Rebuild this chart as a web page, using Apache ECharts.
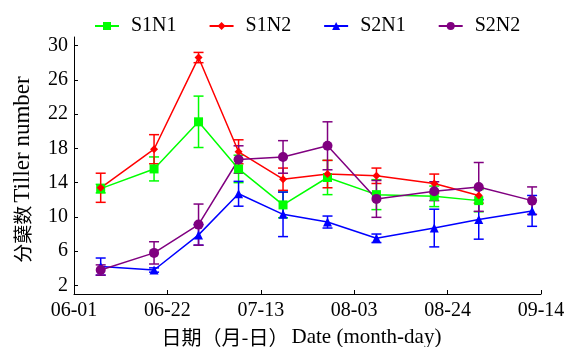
<!DOCTYPE html>
<html>
<head>
<meta charset="utf-8">
<script src="https://cdn.jsdelivr.net/npm/echarts@6/dist/echarts.min.js"></script>
<style>
  html, body { margin: 0; padding: 0; background: #fff; }
  #chart { width: 567px; height: 347px; }
</style>
</head>
<body>
<div id="chart"></div>
<script>
// sampling dates (month-day)
const dates = ['06-07', '06-19', '06-29', '07-08', '07-18', '07-28', '08-08', '08-21', '08-31', '09-12'];
const xTicks = ['06-01', '06-22', '07-13', '08-03', '08-24', '09-14'];
const yTicks = [2, 6, 10, 14, 18, 22, 26, 30];

// tiller number (mean) and error (SD)
const s1n1 = [13.3, 15.6, 21.1, 15.6, 11.4, 14.6, 12.6, 12.4, 11.9];
const s1n1Err = [0.5, 1.4, 3.0, 1.6, 1.5, 2.0, 1.75, 1.2, 1.3];
const s1n2 = [13.4, 17.9, 28.6, 17.6, 14.4, 15.0, 14.8, 13.9, 12.5];
const s1n2Err = [1.7, 1.7, 0.6, 1.4, 1.3, 1.6, 0.9, 1.1, 0.9];
const s2n1 = [4.2, 3.8, 7.9, 12.7, 10.3, 9.4, 7.5, 8.7, 9.7, 10.7];
const s2n1Err = [1.0, 0.25, 1.2, 1.45, 2.6, 0.7, 0.5, 2.2, 2.3, 1.8];
const s2n2 = [3.8, 5.8, 9.1, 16.7, 17.0, 18.3, 12.1, 13.0, 13.5, 11.9];
const s2n2Err = [0.6, 1.3, 2.4, 1.6, 1.9, 2.8, 2.15, 1.1, 2.85, 1.6];

const FONT = "'Liberation Serif', 'Noto Sans CJK SC', serif";

function dayOf(md) {
  const [m, d] = md.split('-').map(Number);
  return Math.round((Date.UTC(2021, m - 1, d) - Date.UTC(2021, 5, 1)) / 86400000);
}
function mdOf(day) {
  const t = new Date(Date.UTC(2021, 5, 1) + day * 86400000);
  const p = (n) => String(n).padStart(2, '0');
  return p(t.getUTCMonth() + 1) + '-' + p(t.getUTCDate());
}

const groups = [
  { name: 'S1N1', vals: s1n1, err: s1n1Err, color: '#00ff00', symbol: 'rect', size: 9 },
  { name: 'S1N2', vals: s1n2, err: s1n2Err, color: '#ff0000', symbol: 'diamond', size: 8 },
  { name: 'S2N1', vals: s2n1, err: s2n1Err, color: '#0000ff', symbol: 'triangle', size: 9 },
  { name: 'S2N2', vals: s2n2, err: s2n2Err, color: '#800080', symbol: 'circle', size: 10 }
];

const series = [];
groups.forEach(g => {
  series.push({
    name: g.name,
    type: 'line',
    data: g.vals.map((v, i) => [dayOf(dates[i]), v]),
    symbol: g.symbol,
    symbolSize: g.size,
    lineStyle: { color: g.color, width: 1.5 },
    itemStyle: { color: g.color },
    z: 3
  });
});
// error bars
groups.forEach(g => {
  series.push({
    name: g.name + ' err',
    type: 'custom',
    data: g.vals.map((v, i) => [dayOf(dates[i]), v - g.err[i], v + g.err[i]]),
    encode: { x: 0, y: [1, 2] },
    z: 2,
    renderItem: function (params, api) {
      const x = api.value(0);
      const lo = api.coord([x, api.value(1)]);
      const hi = api.coord([x, api.value(2)]);
      const w = 5;
      const st = { stroke: g.color, lineWidth: 1.5 };
      return {
        type: 'group',
        children: [
          { type: 'line', shape: { x1: lo[0], y1: lo[1], x2: hi[0], y2: hi[1] }, style: st },
          { type: 'line', shape: { x1: lo[0] - w, y1: lo[1], x2: lo[0] + w, y2: lo[1] }, style: st },
          { type: 'line', shape: { x1: hi[0] - w, y1: hi[1], x2: hi[0] + w, y2: hi[1] }, style: st }
        ]
      };
    }
  });
});

const chart = echarts.init(document.getElementById('chart'));
chart.setOption({
  animation: false,
  backgroundColor: '#fff',
  textStyle: { fontFamily: FONT, color: '#000' },
  legend: {
    data: groups.map(g => g.name),
    left: 89,
    top: 11,
    itemWidth: 24,
    itemHeight: 10,
    itemGap: 32,
    textStyle: { fontFamily: FONT, fontSize: 20, color: '#000', padding: [0, 0, 0, 7] }
  },
  grid: { left: 74, right: 26, top: 37, bottom: 53, outerBoundsMode: 'none' },
  xAxis: {
    type: 'value',
    min: dayOf(xTicks[0]),
    max: dayOf(xTicks[xTicks.length - 1]),
    name: '{c|日期（月-日）} {e|Date (month-day)}',
    nameLocation: 'middle',
    nameGap: 33,
    nameTextStyle: {
      padding: [0, 12, 0, 0],
      rich: {
        c: { fontFamily: 'Noto Sans CJK SC', fontSize: 20, color: '#000' },
        e: { fontFamily: FONT, fontSize: 21, color: '#000' }
      }
    },
    axisLine: { lineStyle: { color: '#000', width: 1 } },
    axisTick: { inside: true, length: 4, customValues: xTicks.map(dayOf), lineStyle: { color: '#000' } },
    axisLabel: {
      customValues: xTicks.map(dayOf),
      formatter: v => mdOf(v),
      fontFamily: FONT, fontSize: 20, color: '#000', margin: 7
    },
    splitLine: { show: false }
  },
  yAxis: {
    type: 'value',
    min: 1,
    max: 31,
    name: '{c|分蘖数} {e|Tiller number}',
    nameLocation: 'middle',
    nameGap: 40,
    nameTextStyle: {
      padding: [0, 8, 0, 0],
      rich: {
        c: { fontFamily: 'Noto Sans CJK SC', fontSize: 19, color: '#000' },
        e: { fontFamily: FONT, fontSize: 23, color: '#000' }
      }
    },
    axisLine: { show: true, lineStyle: { color: '#000', width: 1 } },
    axisTick: { show: true, inside: true, length: 4, customValues: yTicks, lineStyle: { color: '#000' } },
    axisLabel: { customValues: yTicks, fontFamily: FONT, fontSize: 20, color: '#000', margin: 6 },
    splitLine: { show: false }
  },
  series: series
});
</script>
</body>
</html>
